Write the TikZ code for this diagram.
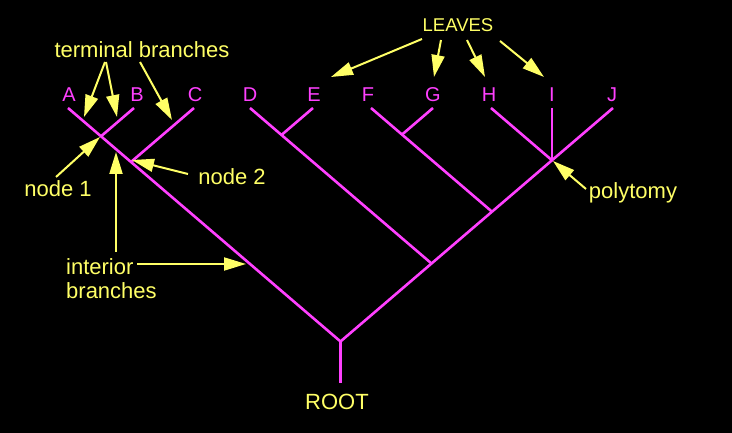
\documentclass[tikz,border=0pt]{standalone}
\usepackage{fontspec}
\setmainfont{Liberation Sans}
\usetikzlibrary{arrows.meta}
\definecolor{mag}{RGB}{255,64,255}
\definecolor{yel}{RGB}{255,255,102}
\tikzset{
  branch/.style={draw=mag, line width=2.6pt},
  leaf/.style={text=mag, font=\fontsize{20}{24}\selectfont, inner sep=0pt},
  note/.style={text=yel, font=\fontsize{22}{24}\selectfont, inner sep=0pt},
  pointer/.style={draw=yel, line width=2pt, -{Triangle[length=22pt,width=13pt]}}
}
\begin{document}
\begin{tikzpicture}[x=1pt,y=1pt]
\fill[black] (0,0) rectangle (732,433);
\useasboundingbox (0,0) rectangle (732,433);
% tree points
\coordinate (tA) at (68,325);
\coordinate (tB) at (134,325);
\coordinate (tC) at (194,325);
\coordinate (tD) at (250,325);
\coordinate (tE) at (313,325);
\coordinate (tF) at (371,325);
\coordinate (tG) at (433,325);
\coordinate (tH) at (491,325);
\coordinate (tI) at (552,325);
\coordinate (tJ) at (613,325);
\coordinate (n1) at (101,296.7);
\coordinate (n2) at (131,271.0);
\coordinate (nE) at (281.5,298.0);
\coordinate (nG) at (402,298.4);
\coordinate (poly) at (552,272.7);
\coordinate (nF) at (492,221.3);
\coordinate (nD) at (431.5,169.5);
\coordinate (root) at (340.5,91.5);
\coordinate (base) at (340.5,50);
% branches
\draw[branch] (tA) -- (root) -- (tJ);
\draw[branch] (tB) -- (n1);
\draw[branch] (tC) -- (n2);
\draw[branch] (tD) -- (nD);
\draw[branch] (tE) -- (nE);
\draw[branch] (tF) -- (nF);
\draw[branch] (tG) -- (nG);
\draw[branch] (tH) -- (poly);
\draw[branch] (tI) -- (poly);
\draw[branch] (root) -- (base);
% leaf labels
\node[leaf] (lA) at (69,338) {A};
\node[leaf] (lB) at (137,338) {B};
\node[leaf] (lC) at (195,338) {C};
\node[leaf] (lD) at (250,338) {D};
\node[leaf] (lE) at (314,338) {E};
\node[leaf] (lF) at (368,338) {F};
\node[leaf] (lG) at (433,338) {G};
\node[leaf] (lH) at (489,338) {H};
\node[leaf] (lI) at (552,338) {I};
\node[leaf] (lJ) at (612,338) {J};
% annotations
\node[note] (term) at (142,383) {terminal branches};
\node[note, font=\fontsize{18.5}{22}\selectfont] (leaves) at (458,408) {LEAVES};
\node[note] (node1) at (58,244) {node 1};
\node[note] (node2) at (232,256) {node 2};
\node[note, align=left, anchor=west] (interior) at (66,154) {interior\\branches};
\node[note] (polyt) at (633,240) {polytomy};
\node[note] (rootl) at (337,31) {ROOT};
% arrow ends
\coordinate (t1s) at (105,371); \coordinate (t1e) at (84,316);
\coordinate (t2s) at (106,371); \coordinate (t2e) at (117,316);
\coordinate (t3s) at (140,371); \coordinate (t3e) at (172,313);
\coordinate (l1s) at (422,394); \coordinate (l1e) at (331,356);
\coordinate (l2s) at (441,393); \coordinate (l2e) at (434,356);
\coordinate (l3s) at (467,393); \coordinate (l3e) at (485,356);
\coordinate (l4s) at (500,392); \coordinate (l4e) at (544,356);
\coordinate (a1s) at (56,256); \coordinate (a1e) at (100,296);
\coordinate (a2s) at (188,259); \coordinate (a2e) at (132,273);
\coordinate (ivs) at (116,181); \coordinate (ive) at (116,281);
\coordinate (ihs) at (137,169); \coordinate (ihe) at (246,169);
\coordinate (ps) at (586,244); \coordinate (pe) at (553,272);
\draw[pointer] (t1s) -- (t1e);
\draw[pointer] (t2s) -- (t2e);
\draw[pointer] (t3s) -- (t3e);
\draw[pointer] (l1s) -- (l1e);
\draw[pointer] (l2s) -- (l2e);
\draw[pointer] (l3s) -- (l3e);
\draw[pointer] (l4s) -- (l4e);
\draw[pointer] (a1s) -- (a1e);
\draw[pointer] (a2s) -- (a2e);
\draw[pointer] (ivs) -- (ive);
\draw[pointer] (ihs) -- (ihe);
\draw[pointer] (ps) -- (pe);
\end{tikzpicture}
\end{document}
